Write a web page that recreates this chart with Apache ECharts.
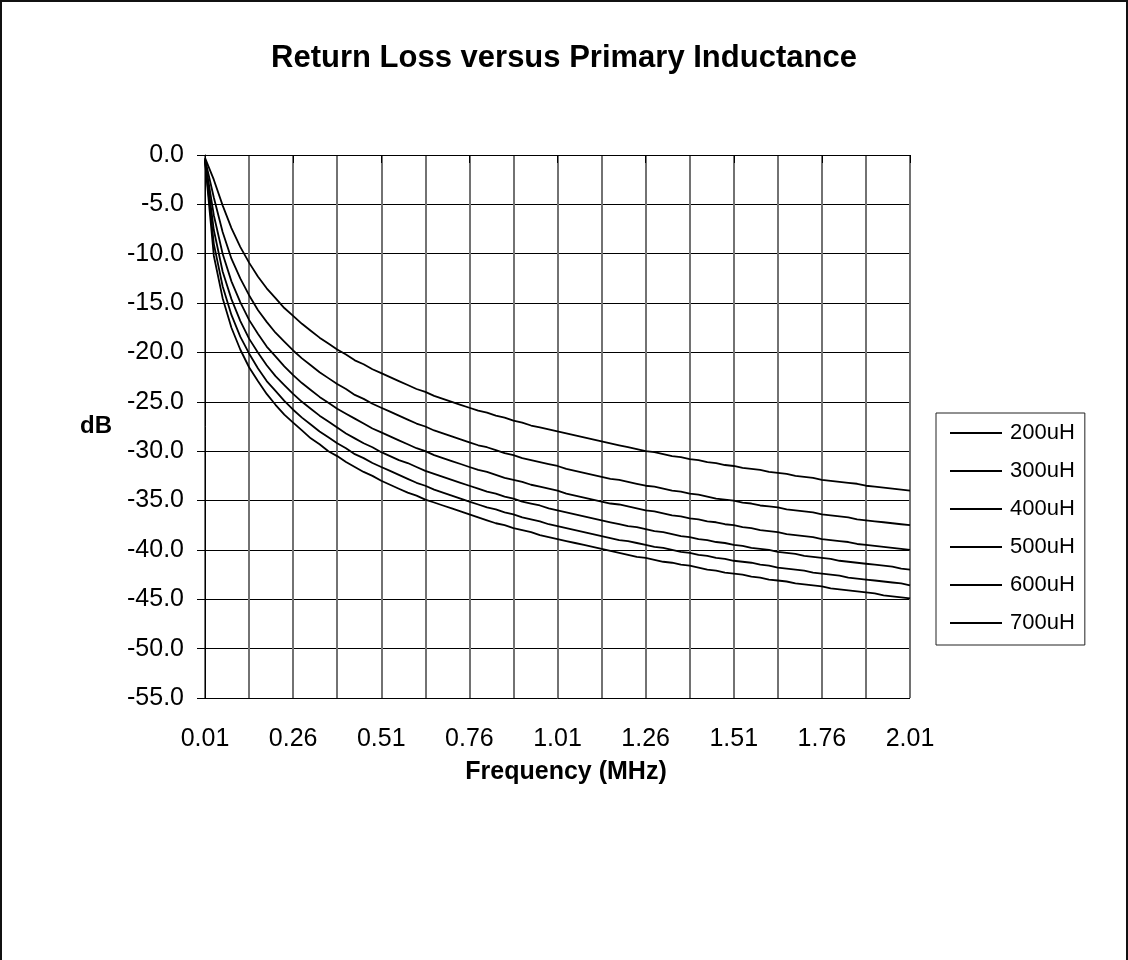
<!DOCTYPE html>
<html>
<head>
<meta charset="utf-8">
<script src="https://cdn.jsdelivr.net/npm/echarts@6/dist/echarts.min.js"></script>
<style>
html, body { margin: 0; padding: 0; background: #fff; }
#chart { position: absolute; left: 0; top: 0; width: 1128px; height: 960px; }
#frame { position: absolute; left: 0; top: 0; width: 1128px; height: 960px; box-sizing: border-box;
  border-top: 2px solid #111; border-left: 2px solid #111; border-right: 2px solid #111; pointer-events: none; }
</style>
</head>
<body>
<div id="chart"></div>
<div id="frame"></div>
<script>
// Frequency categories (MHz)
const freqs = [
"0.01","0.035","0.06","0.085","0.11","0.135","0.16","0.185","0.21","0.235",
"0.26","0.285","0.31","0.335","0.36","0.385","0.41","0.435","0.46","0.485",
"0.51","0.535","0.56","0.585","0.61","0.635","0.66","0.685","0.71","0.735",
"0.76","0.785","0.81","0.835","0.86","0.885","0.91","0.935","0.96","0.985",
"1.01","1.035","1.06","1.085","1.11","1.135","1.16","1.185","1.21","1.235",
"1.26","1.285","1.31","1.335","1.36","1.385","1.41","1.435","1.46","1.485",
"1.51","1.535","1.56","1.585","1.61","1.635","1.66","1.685","1.71","1.735",
"1.76","1.785","1.81","1.835","1.86","1.885","1.91","1.935","1.96","1.985",
"2.01"];

const seriesNames = ["200uH","300uH","400uH","500uH","600uH","700uH"];

const l200 = [
-0.3, -2.5, -5.1, -7.4, -9.3, -10.9, -12.3, -13.5, -14.5, -15.5,
-16.3, -17.1, -17.8, -18.5, -19.1, -19.7, -20.2, -20.8, -21.2, -21.7,
-22.1, -22.5, -22.9, -23.3, -23.7, -24.0, -24.4, -24.7, -25.0, -25.3,
-25.6, -25.9, -26.1, -26.4, -26.6, -26.9, -27.1, -27.4, -27.6, -27.8,
-28.0, -28.2, -28.4, -28.6, -28.8, -29.0, -29.2, -29.4, -29.6, -29.8,
-30.0, -30.1, -30.3, -30.5, -30.6, -30.8, -30.9, -31.1, -31.2, -31.4,
-31.5, -31.7, -31.8, -31.9, -32.1, -32.2, -32.3, -32.5, -32.6, -32.7,
-32.9, -33.0, -33.1, -33.2, -33.3, -33.5, -33.6, -33.7, -33.8, -33.9,
-34.0];

const l300 = [
-0.4, -4.3, -7.8, -10.5, -12.5, -14.2, -15.7, -16.9, -18.0, -18.9,
-19.8, -20.6, -21.3, -22.0, -22.6, -23.2, -23.7, -24.3, -24.7, -25.2,
-25.6, -26.0, -26.4, -26.8, -27.2, -27.5, -27.9, -28.2, -28.5, -28.8,
-29.1, -29.4, -29.6, -29.9, -30.2, -30.4, -30.7, -30.9, -31.1, -31.3,
-31.5, -31.8, -32.0, -32.2, -32.4, -32.6, -32.8, -32.9, -33.1, -33.3,
-33.5, -33.6, -33.8, -34.0, -34.1, -34.3, -34.4, -34.6, -34.8, -34.9,
-35.0, -35.2, -35.3, -35.5, -35.6, -35.7, -35.9, -36.0, -36.1, -36.2,
-36.4, -36.5, -36.6, -36.7, -36.9, -37.0, -37.1, -37.2, -37.3, -37.4,
-37.5];

const l400 = [
-0.5, -6.1, -10.0, -12.8, -14.9, -16.7, -18.1, -19.4, -20.4, -21.4,
-22.3, -23.1, -23.8, -24.5, -25.1, -25.7, -26.2, -26.7, -27.2, -27.7,
-28.1, -28.5, -28.9, -29.3, -29.7, -30.0, -30.4, -30.7, -31.0, -31.3,
-31.6, -31.9, -32.1, -32.4, -32.7, -32.9, -33.1, -33.4, -33.6, -33.8,
-34.0, -34.3, -34.5, -34.7, -34.9, -35.1, -35.3, -35.4, -35.6, -35.8,
-36.0, -36.1, -36.3, -36.5, -36.6, -36.8, -36.9, -37.1, -37.2, -37.4,
-37.5, -37.7, -37.8, -38.0, -38.1, -38.2, -38.4, -38.5, -38.6, -38.7,
-38.9, -39.0, -39.1, -39.2, -39.4, -39.5, -39.6, -39.7, -39.8, -39.9,
-40.0];

const l500 = [
-0.5, -7.6, -11.8, -14.6, -16.8, -18.6, -20.0, -21.3, -22.4, -23.3,
-24.2, -25.0, -25.7, -26.4, -27.0, -27.6, -28.2, -28.7, -29.2, -29.6,
-30.1, -30.5, -30.9, -31.2, -31.6, -32.0, -32.3, -32.6, -32.9, -33.2,
-33.5, -33.8, -34.1, -34.3, -34.6, -34.8, -35.1, -35.3, -35.5, -35.8,
-36.0, -36.2, -36.4, -36.6, -36.8, -37.0, -37.2, -37.4, -37.6, -37.7,
-37.9, -38.1, -38.2, -38.4, -38.6, -38.7, -38.9, -39.0, -39.2, -39.3,
-39.5, -39.6, -39.8, -39.9, -40.0, -40.2, -40.3, -40.4, -40.6, -40.7,
-40.8, -40.9, -41.1, -41.2, -41.3, -41.4, -41.5, -41.6, -41.7, -41.9,
-42.0];

const l600 = [
-0.5, -9.0, -13.3, -16.2, -18.4, -20.1, -21.6, -22.9, -23.9, -24.9,
-25.8, -26.6, -27.3, -28.0, -28.6, -29.2, -29.7, -30.3, -30.7, -31.2,
-31.6, -32.0, -32.4, -32.8, -33.2, -33.5, -33.9, -34.2, -34.5, -34.8,
-35.1, -35.4, -35.7, -35.9, -36.2, -36.4, -36.7, -36.9, -37.1, -37.4,
-37.6, -37.8, -38.0, -38.2, -38.4, -38.6, -38.8, -39.0, -39.1, -39.3,
-39.5, -39.7, -39.8, -40.0, -40.2, -40.3, -40.5, -40.6, -40.8, -40.9,
-41.1, -41.2, -41.3, -41.5, -41.6, -41.8, -41.9, -42.0, -42.1, -42.3,
-42.4, -42.5, -42.6, -42.8, -42.9, -43.0, -43.1, -43.2, -43.3, -43.4,
-43.6];

const l700 = [
-0.6, -10.2, -14.5, -17.5, -19.7, -21.5, -22.9, -24.2, -25.3, -26.3,
-27.1, -27.9, -28.7, -29.3, -30.0, -30.5, -31.1, -31.6, -32.1, -32.5,
-33.0, -33.4, -33.8, -34.2, -34.5, -34.9, -35.2, -35.5, -35.8, -36.1,
-36.4, -36.7, -37.0, -37.3, -37.5, -37.8, -38.0, -38.2, -38.5, -38.7,
-38.9, -39.1, -39.3, -39.5, -39.7, -39.9, -40.1, -40.3, -40.5, -40.7,
-40.8, -41.0, -41.2, -41.3, -41.5, -41.6, -41.8, -42.0, -42.1, -42.3,
-42.4, -42.5, -42.7, -42.8, -43.0, -43.1, -43.2, -43.4, -43.5, -43.6,
-43.7, -43.9, -44.0, -44.1, -44.2, -44.3, -44.4, -44.6, -44.7, -44.8,
-44.9];

const allValues = [l200, l300, l400, l500, l600, l700];

const FONT = '"Liberation Sans", Arial, Helvetica, sans-serif';

const chart = echarts.init(document.getElementById('chart'), null, { renderer: 'canvas' });

const ySplitColors = ['#000','#000','#000','#000','#000','#000','#000','#000','#000','#000','#000','#8a8a8a'];

chart.setOption({
  animation: false,
  backgroundColor: '#ffffff',
  title: {
    text: 'Return Loss versus Primary Inductance',
    left: 'center',
    top: 38,
    textStyle: { fontFamily: FONT, fontSize: 31, fontWeight: 'bold', color: '#000' }
  },
  legend: {
    orient: 'vertical',
    left: 936,
    top: 413,
    data: seriesNames,
    icon: 'rect',
    itemWidth: 52,
    itemHeight: 1.8,
    itemGap: 14,
    padding: [8, 10, 10, 14],
    borderColor: '#222',
    borderWidth: 1,
    backgroundColor: '#fff',
    textStyle: { fontFamily: FONT, fontSize: 22, color: '#000', lineHeight: 24, padding: [0, 0, 0, 3] }
  },
  grid: { left: 205, right: 218, top: 155, bottom: 262, containLabel: false },
  xAxis: {
    type: 'category',
    data: freqs,
    boundaryGap: false,
    name: 'Frequency (MHz)',
    nameLocation: 'middle',
    nameGap: 74,
    nameTextStyle: { fontFamily: FONT, fontSize: 25, fontWeight: 'bold', color: '#000', align: 'center', verticalAlign: 'middle', padding: [0, 0, 0, 17] },
    axisLine: { show: true, lineStyle: { color: '#000', width: 1 } },
    axisTick: { show: true, interval: 9, length: 8, inside: false, lineStyle: { color: '#000', width: 1 } },
    axisLabel: { interval: 9, margin: 29, fontFamily: FONT, fontSize: 25, color: '#000' },
    splitLine: { show: true, interval: 4, lineStyle: { color: '#727272', width: 2 } }
  },
  yAxis: {
    type: 'value',
    min: -55,
    max: 0,
    interval: 5,
    name: 'dB',
    nameLocation: 'middle',
    nameRotate: 0,
    nameGap: 109,
    nameTextStyle: { fontFamily: FONT, fontSize: 24, fontWeight: 'bold', color: '#000', align: 'center', verticalAlign: 'middle' },
    axisLine: { show: true, lineStyle: { color: '#000', width: 1 } },
    axisTick: { show: true, length: 8, inside: false, lineStyle: { color: '#000', width: 1 } },
    axisLabel: { margin: 21, fontFamily: FONT, fontSize: 25, color: '#000', formatter: v => v.toFixed(1) },
    splitLine: { show: true, lineStyle: { color: ySplitColors, width: 1 } }
  },
  series: seriesNames.map((name, i) => ({
    name: name,
    type: 'line',
    data: allValues[i],
    symbol: 'none',
    showSymbol: false,
    smooth: false,
    color: '#000',
    lineStyle: { color: '#000', width: 1.8 },
    emphasis: { disabled: true }
  }))
});
</script>
</body>
</html>
